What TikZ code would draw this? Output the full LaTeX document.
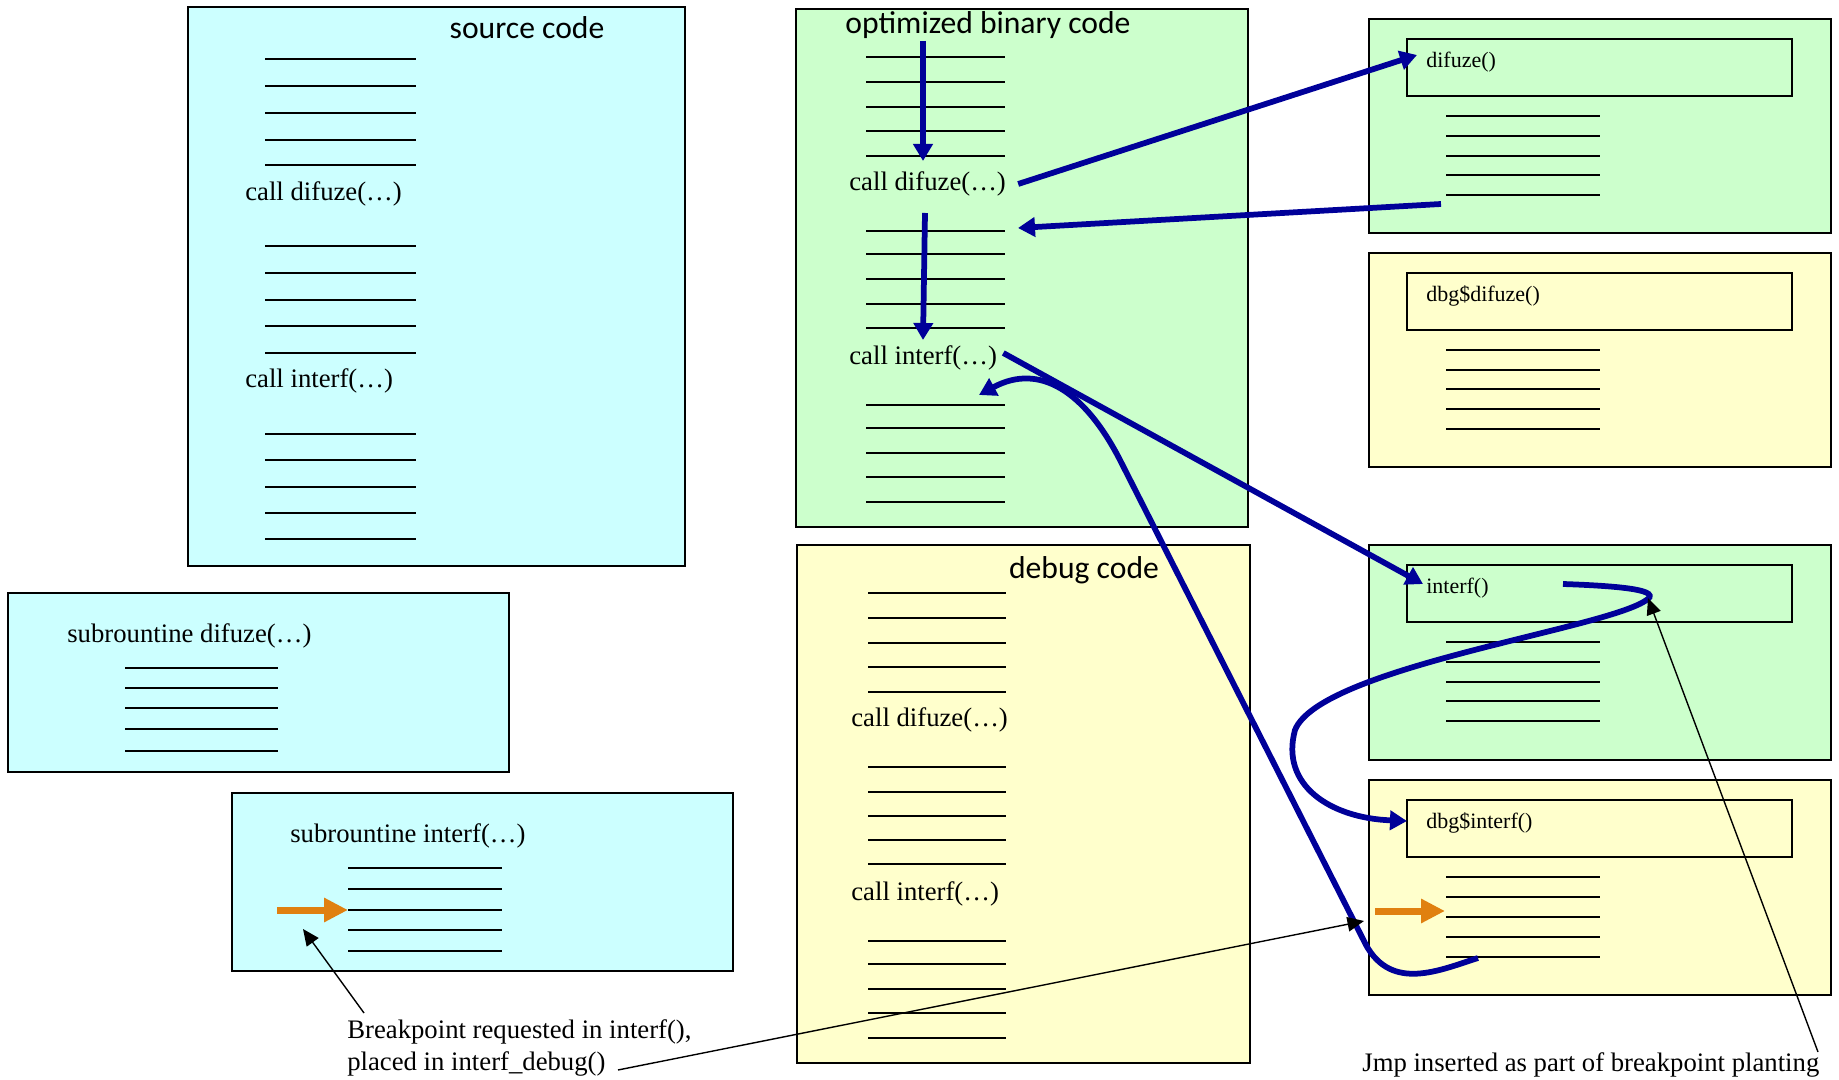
\documentclass[tikz,border=0pt]{standalone}
\usepackage{fontspec}
\setmainfont{Liberation Serif}
\newfontfamily\headfont{Carlito}
\usetikzlibrary{arrows.meta}
\definecolor{srcfill}{RGB}{204,255,255}
\definecolor{optfill}{RGB}{204,255,204}
\definecolor{dbgfill}{RGB}{255,255,204}
\definecolor{flowblue}{RGB}{0,0,153}
\definecolor{bporange}{RGB}{224,128,16}
\def\codelines(#1:#2)#3{\foreach \yy in {#3} \draw[codeline] (#1,\yy) -- (#2,\yy);}

\begin{document}
\begin{tikzpicture}[x=0.2mm, y=-0.2mm,
		panel/.style={draw=black, line width=0.4mm},
		codeline/.style={line width=0.3mm},
		codetxt/.style={inner sep=0pt, anchor=west, font=\fontsize{15.2}{18}\selectfont},
		fntxt/.style={inner sep=0pt, anchor=west, font=\fontsize{12.5}{15}\selectfont},
		heading/.style={inner sep=0pt, font=\headfont\fontsize{18}{21}\selectfont},
		flow/.style={draw=flowblue, line width=1.15mm, -{Triangle[length=3.4mm,width=3.8mm]}},
		bparrow/.style={draw=bporange, line width=1.4mm, -{Triangle[length=4.8mm,width=4.6mm]}},
		pointer/.style={draw=black, line width=0.28mm, -{Triangle[length=3.3mm,width=2.9mm]}}]
				\useasboundingbox (0,0) rectangle (1839,1080);
				
				% source side
				\draw[panel, fill=srcfill] (188,7) rectangle (685,566);
				\node[heading] (srctitle) at (527,28) {source code};
				\codelines(265:416){59,86,113,140,165}
				\node[codetxt] (srcdif) at (245,194) {call difuze(…)};
				\codelines(265:416){246,273,300,326,353}
				\node[codetxt] (srcint) at (245,381) {call interf(…)};
				\codelines(265:416){434,460,487,513,539}
				
				\draw[panel, fill=srcfill] (8,593) rectangle (509,772);
				\node[codetxt] (subdif) at (67,636) {subrountine difuze(…)};
				\codelines(125:278){668,688,708,729,751}
				
				\draw[panel, fill=srcfill] (232,793) rectangle (733,971);
				\node[codetxt] (subint) at (290,836) {subrountine interf(…)};
				\codelines(348:502){868,889,910,930,951}
				\coordinate (bpsrc) at (277,910);
				\coordinate (bpsrce) at (348,910);
				\draw[bparrow] (bpsrc) -- (bpsrce);
				
				% optimized binary code
				\draw[panel, fill=optfill] (796,9) rectangle (1248,527);
				\node[heading] (opttitle) at (988,25) {optimized binary code};
				\codelines(866:1005){57,82,107,131,156}
				\node[codetxt] (optdif) at (849,184) {call difuze(…)};
				\codelines(866:1005){231,254,279,304,328}
				\node[codetxt] (optint) at (849,358) {call interf(…)};
				\codelines(866:1005){405,428,453,477,502}
				
				% debug code
				\draw[panel, fill=dbgfill] (797,545) rectangle (1250,1063);
				\node[heading] (dbgtitle) at (1084,570) {debug code};
				\codelines(868:1006){593,618,643,667,692}
				\node[codetxt] (dbgdif) at (851,720) {call difuze(…)};
				\codelines(868:1006){767,792,816,840,864}
				\node[codetxt] (dbgint) at (851,894) {call interf(…)};
				\codelines(868:1006){941,964,989,1013,1038}
				
				% functions
				\draw[panel, fill=optfill] (1369,19) rectangle (1831,233);
				\draw[panel] (1407,39) rectangle (1792,96);
				\node[fntxt] (fndif) at (1426,62) {difuze()};
				\codelines(1446:1600){116,136,156,175,195}
				
				\draw[panel, fill=dbgfill] (1369,253) rectangle (1831,467);
				\draw[panel] (1407,273) rectangle (1792,330);
				\node[fntxt] (fndbgdif) at (1426,296) {dbg\$difuze()};
				\codelines(1446:1600){350,370,389,409,429}
				
				\draw[panel, fill=optfill] (1369,545) rectangle (1831,760);
				\draw[panel] (1407,565) rectangle (1792,622);
				\node[fntxt] (fnint) at (1426,588) {interf()};
				\codelines(1446:1600){642,662,682,701,721}
				
				\draw[panel, fill=dbgfill] (1369,780) rectangle (1831,995);
				\draw[panel] (1407,800) rectangle (1792,857);
				\node[fntxt] (fndbgint) at (1426,823) {dbg\$interf()};
				\codelines(1446:1600){877,897,917,937,957}
				\coordinate (bpdbg) at (1375,911);
				\coordinate (bpdbge) at (1445,911);
				\draw[bparrow] (bpdbg) -- (bpdbge);
				
				% control flow
				\coordinate (run1) at (923,41);
				\coordinate (run1e) at (923,161);
				\coordinate (run2) at (925,213);
				\coordinate (run2e) at (923,340);
				\coordinate (difin) at (1417,55);
				\coordinate (difout) at (1441,204);
				\coordinate (difret) at (1018,228);
				\coordinate (intin) at (1423,584);
				\coordinate (jmpfrom) at (1563,584);
				\coordinate (dbgin) at (1407,821);
				\coordinate (dbgout) at (1478,958);
				\coordinate (intret) at (979,395);
				\draw[flow] (run1) -- (run1e);
				\draw[flow] (run2) -- (run2e);
				\draw[flow] ([xshift=2.4mm]optdif.east) -- (difin);
				\draw[flow] (difout) -- (difret);
				\draw[flow] ([xshift=1.2mm,yshift=1mm]optint.east) -- (intin);
				\draw[flow] (jmpfrom) .. controls (1620,586) and (1665,590) .. (1645,601) .. controls (1600,630) and (1320,668) .. (1295,730) .. controls (1280,785) and (1330,818) .. (dbgin);
				\draw[flow] (dbgout) .. controls (1440,970) and (1392,992) .. (1366,945) -- (1120,460) .. controls (1085,392) and (1040,362) .. (intret);
				
				% notes
				\node[codetxt, align=left] (bpnote) at (347,1048) {Breakpoint requested in interf(),\\placed in interf\_debug()};
				\node[codetxt] (jmpnote) at (1362,1065) {Jmp inserted as part of breakpoint planting};
				\coordinate (bptip) at (303,929);
				\coordinate (bpfoot) at (364,1013);
				\coordinate (bplink) at (618,1070);
				\coordinate (bpdbgtip) at (1364,921);
				\coordinate (jmpfoot) at (1818,1052);
				\coordinate (jmptip) at (1648,598);
				\draw[pointer] (bpfoot) -- (bptip);
				\draw[pointer] (bplink) -- (bpdbgtip);
				\draw[pointer] (jmpfoot) -- (jmptip);
			\end{tikzpicture}
\end{document}
